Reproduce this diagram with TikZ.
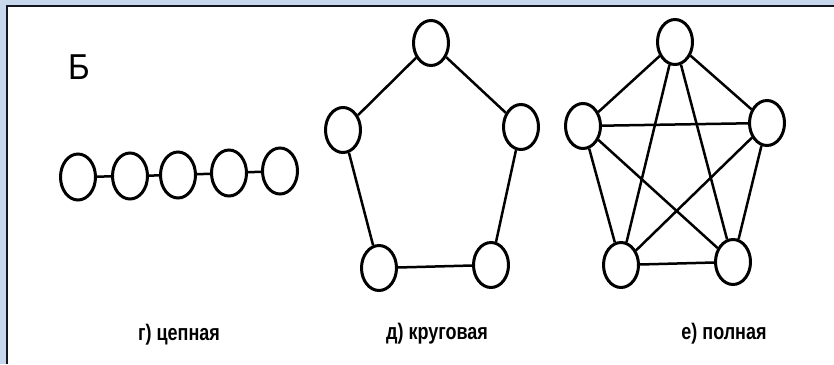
\documentclass[tikz,border=0pt]{standalone}
\usepackage{fontspec}
\setmainfont{Liberation Sans}
\usetikzlibrary{shapes.geometric}
\definecolor{framebg}{HTML}{C7D7EC}
\definecolor{frameline}{HTML}{151520}
\begin{document}
\begin{tikzpicture}[x=1pt,y=-1pt,
  vert/.style={draw, ellipse, line width=3pt, minimum width=35pt, minimum height=45pt, inner sep=0pt},
  edge/.style={line width=2.5pt},
  lbl/.style={font=\fontsize{18}{20}\selectfont\bfseries, yscale=1.25, inner sep=0pt},
  bigletter/.style={font=\fontsize{30}{32}\selectfont, xscale=1.1, yscale=1.2, inner sep=0pt}]
\useasboundingbox (0,0) rectangle (834,364);
\fill[framebg] (0,0) rectangle (834,364);
\fill[white] (7,6) rectangle (834,364);
\draw[frameline, line width=2pt] (7,364) -- (7,6) -- (834,6);

\node[bigletter] (B) at (79,67) {Б};

% chain
\node[vert, minimum height=46pt] (c1) at (78,177) {};
\node[vert, minimum height=46pt] (c2) at (130,176) {};
\node[vert, minimum height=46pt] (c3) at (178,175) {};
\node[vert, minimum height=46pt] (c4) at (229,173) {};
\node[vert, minimum height=46pt] (c5) at (280,171) {};
\draw[edge] (c1) -- (c2);
\draw[edge] (c2) -- (c3);
\draw[edge] (c3) -- (c4);
\draw[edge] (c4) -- (c5);

% ring
\node[vert] (r1) at (431,43) {};
\node[vert] (r2) at (521,127) {};
\node[vert] (r3) at (491,265) {};
\node[vert] (r4) at (379,268) {};
\node[vert] (r5) at (343,130) {};
\draw[edge] (r1) -- (r2);
\draw[edge] (r2) -- (r3);
\draw[edge] (r3) -- (r4);
\draw[edge] (r4) -- (r5);
\draw[edge] (r5) -- (r1);

% complete
\node[vert] (k1) at (675,42) {};
\node[vert] (k2) at (767,123) {};
\node[vert] (k3) at (733,262) {};
\node[vert] (k4) at (621,265) {};
\node[vert] (k5) at (583,126) {};
\foreach \a/\b in {k1/k2,k1/k3,k1/k4,k1/k5,k2/k3,k2/k4,k2/k5,k3/k4,k3/k5,k4/k5}
  \draw[edge] (\a) -- (\b);

\node[lbl] (l1) at (179,335) {г) цепная};
\node[lbl] (l2) at (437,334) {д) круговая};
\node[lbl] (l3) at (724,334) {е) полная};
\end{tikzpicture}
\end{document}
